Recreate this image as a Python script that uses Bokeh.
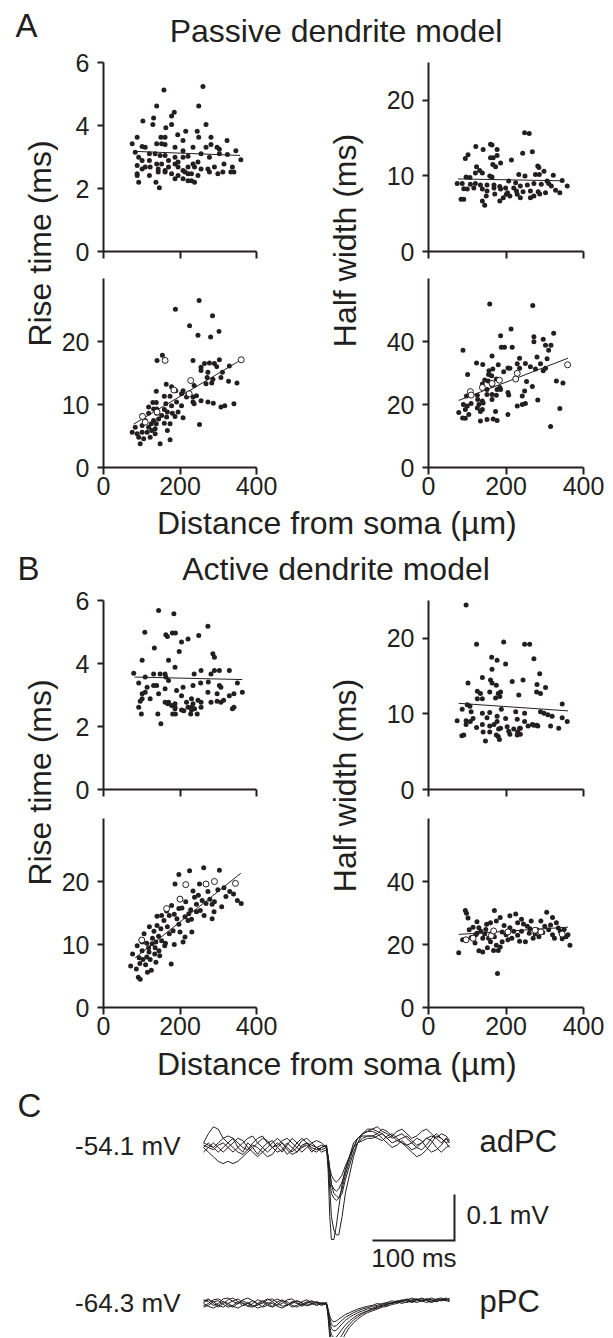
import math
from bokeh.plotting import figure
from bokeh.models import Range1d, FixedTicker, Label, ColumnDataSource
from bokeh.layouts import column, row
from bokeh.embed import file_html
from bokeh.resources import INLINE

# ---------------- data ----------------
# (distance from soma in um, value) pairs
passive_rise_top = [(158,5.13),(260,5.24),(139,4.62),(249,4.62),(185,4.42),(178,4.30),(103,4.14),(131,4.24),(129,4.03),(268,4.03),(163,3.93),(178,4.03),(215,3.82),(194,3.71),(245,3.82),(88,3.63),(150,3.63),(161,3.63),(208,3.52),(249,3.63),(281,3.63),(323,3.52),(75,3.42),(101,3.33),(109,3.31),(139,3.42),(152,3.42),(161,3.40),(187,3.31),(208,3.20),(234,3.31),(268,3.31),(281,3.40),(297,3.31),(303,3.25),(346,3.20),(83,3.15),(120,3.10),(135,3.10),(148,3.05),(161,3.05),(187,2.99),(208,2.99),(221,3.02),(255,3.10),(277,2.99),(303,3.10),(324,3.08),(92,2.99),(101,2.89),(120,2.89),(139,2.78),(152,2.78),(170,2.89),(187,2.78),(195,2.84),(234,2.78),(247,2.84),(359,2.91),(88,2.73),(101,2.62),(109,2.68),(122,2.68),(143,2.62),(161,2.57),(170,2.68),(195,2.68),(208,2.57),(221,2.68),(238,2.68),(255,2.62),(273,2.62),(290,2.68),(315,2.78),(337,2.68),(277,2.52),(299,2.47),(312,2.52),(333,2.52),(341,2.52),(88,2.47),(120,2.41),(143,2.52),(161,2.52),(178,2.47),(195,2.41),(213,2.52),(221,2.47),(230,2.47),(247,2.41),(88,2.41),(187,2.31),(208,2.31),(221,2.25),(230,2.25),(238,2.20),(92,2.20),(137,2.20),(146,2.02)]
passive_half_top = [(248,15.7),(260,15.6),(122,13.9),(141,13.5),(160,14.2),(164,14.1),(177,13.5),(268,13.2),(243,13.0),(102,12.8),(95,12.3),(160,12.4),(167,12.4),(177,12.7),(214,12.1),(186,11.7),(173,11.2),(166,11.5),(282,11.3),(285,11.1),(124,11.2),(132,10.7),(121,10.4),(139,10.4),(298,10.6),(322,10.1),(233,10.2),(249,10.0),(276,10.2),(286,10.2),(97,9.87),(107,9.8),(158,10.0),(164,9.87),(207,9.33),(225,9.1),(306,9.33),(345,9.4),(74,8.98),(87,8.98),(108,8.9),(121,8.98),(134,8.8),(151,8.8),(169,8.8),(184,8.6),(199,8.4),(220,8.4),(237,8.67),(255,8.8),(272,8.98),(291,8.9),(310,8.98),(317,8.67),(358,8.67),(91,8.3),(100,8.27),(117,8.4),(139,8.27),(151,8.0),(169,8.4),(186,8.27),(204,7.78),(227,8.0),(244,7.9),(263,8.0),(283,7.9),(302,7.78),(328,8.1),(339,7.78),(210,7.33),(229,7.56),(237,7.1),(149,7.33),(171,7.6),(193,7.1),(84,6.9),(91,6.9),(201,7.56),(184,6.67),(139,6.67),(145,6.13),(263,7.1),(272,7.33),(287,7.6)]
passive_rise_bot = [(250,26.5),(188,25.1),(285,24.1),(225,22.5),(247,21.0),(302,21.6),(280,20.7),(140,17.0),(154,17.8),(234,17.0),(255,15.9),(264,16.5),(277,16.6),(290,16.5),(303,17.1),(296,16.0),(255,15.4),(273,15.1),(311,15.1),(329,16.1),(271,14.3),(286,14.0),(307,14.3),(327,13.7),(349,13.4),(268,13.3),(283,13.4),(237,13.0),(164,13.2),(178,12.8),(189,12.2),(208,12.2),(221,11.7),(204,11.7),(217,11.2),(234,11.2),(243,11.4),(138,12.1),(159,11.3),(174,11.3),(255,10.6),(273,10.4),(287,10.2),(307,9.6),(317,9.8),(341,10.1),(234,10.4),(237,10.1),(129,10.3),(138,10.3),(163,10.1),(178,9.8),(191,10.4),(204,9.8),(118,9.6),(131,9.3),(139,9.3),(159,9.2),(167,8.8),(180,8.6),(195,8.8),(101,8.25),(118,8.6),(139,8.6),(152,8.25),(165,8.0),(187,8.1),(208,7.9),(109,7.46),(131,7.46),(144,7.7),(125,6.94),(138,6.94),(159,7.03),(174,6.94),(251,6.83),(83,6.4),(101,6.67),(118,6.4),(135,6.14),(75,5.6),(88,5.35),(101,5.6),(114,5.6),(126,5.87),(135,5.35),(167,5.87),(92,4.81),(105,4.55),(122,4.81),(96,3.76),(148,3.76),(174,4.4)]
passive_rise_bot_open = [(102,8.1),(109,7.2),(140,8.8),(161,17.0),(184,12.3),(224,11.7),(228,13.8),(360,17.1)]
passive_half_bot = [(158,51.9),(269,51.4),(213,44.0),(186,41.8),(272,41.5),(272,39.9),(296,40.7),(323,42.6),(302,38.8),(316,38.8),(310,37.2),(89,37.2),(188,38.2),(196,38.2),(216,38.2),(164,35.4),(235,34.7),(280,35.1),(306,34.5),(124,33.2),(140,32.7),(180,32.6),(205,31.6),(229,32.9),(235,31.5),(250,33.0),(263,32.0),(289,32.9),(276,31.3),(296,30.7),(302,31.5),(156,30.7),(166,31.3),(194,30.4),(210,31.5),(101,29.5),(155,29.5),(163,29.1),(145,27.8),(154,27.5),(175,28.1),(253,27.3),(330,27.5),(347,26.8),(139,26.5),(164,26.1),(184,25.4),(205,23.8),(248,24.3),(151,24.8),(177,24.8),(186,24.8),(268,25.7),(98,22.7),(126,22.9),(151,23.2),(164,23.2),(175,22.9),(207,23.0),(242,22.7),(127,21.6),(139,21.1),(164,21.6),(90,20.0),(100,19.5),(110,20.3),(130,20.0),(141,20.5),(229,19.5),(242,20.0),(250,20.3),(282,21.4),(78,17.5),(95,18.4),(126,18.9),(139,18.4),(104,16.8),(134,17.8),(173,17.8),(205,16.8),(88,15.7),(95,15.6),(134,14.8),(151,15.2),(167,15.4),(177,14.9),(339,18.7),(315,13.0)]
passive_half_bot_open = [(108,24.1),(110,23.0),(139,25.4),(164,26.7),(183,27.7),(225,28.1),(229,29.9),(359,32.6)]

active_rise_top = [(144,5.68),(184,5.58),(108,4.99),(163,4.91),(167,4.86),(180,4.97),(188,4.97),(273,5.18),(249,4.89),(221,4.78),(204,4.68),(133,4.49),(198,4.38),(286,4.31),(290,4.20),(101,4.10),(170,4.10),(255,3.78),(329,3.78),(79,3.69),(109,3.57),(131,3.67),(148,3.67),(161,3.67),(187,3.88),(163,3.57),(237,3.67),(290,3.78),(303,3.78),(281,3.67),(92,3.38),(114,3.25),(131,3.30),(139,3.30),(170,3.46),(208,3.25),(234,3.30),(254,3.38),(274,3.41),(303,3.30),(307,3.25),(350,3.38),(363,3.09),(109,3.09),(101,3.04),(161,3.20),(191,3.14),(273,3.09),(297,3.04),(329,2.98),(341,3.04),(101,2.88),(122,2.88),(144,3.04),(204,2.98),(230,2.88),(96,2.80),(161,2.77),(170,2.77),(187,2.72),(217,2.77),(234,2.72),(247,2.83),(255,2.77),(281,2.77),(297,2.80),(307,2.77),(314,2.83),(168,2.72),(178,2.67),(187,2.61),(92,2.61),(221,2.61),(230,2.61),(238,2.56),(255,2.61),(341,2.61),(337,2.56),(204,2.52),(210,2.50),(230,2.52),(187,2.56),(99,2.40),(142,2.40),(181,2.40),(188,2.40),(228,2.40),(245,2.40),(150,2.09)]
active_half_top = [(97,24.4),(124,19.2),(194,19.5),(248,19.2),(261,19.2),(163,17.5),(177,17.1),(272,17.3),(199,16.6),(139,14.8),(160,14.5),(164,14.1),(216,14.3),(244,14.5),(102,14.1),(175,13.8),(280,13.9),(287,15.3),(302,13.5),(164,15.9),(126,13.0),(134,12.7),(158,12.9),(180,12.7),(186,12.9),(279,12.9),(289,12.7),(126,12.0),(139,12.0),(173,12.1),(184,12.3),(233,12.5),(107,11.0),(100,11.2),(345,11.3),(188,10.6),(87,10.6),(110,10.3),(139,10.1),(158,10.2),(177,9.7),(199,9.4),(225,10.3),(248,10.1),(289,10.3),(298,10.1),(308,9.9),(319,9.7),(74,9.1),(97,9.1),(115,9.4),(151,9.5),(177,9.0),(229,9.3),(248,9.0),(268,8.6),(280,8.5),(345,9.5),(358,9.0),(97,8.6),(108,9.0),(124,8.2),(139,8.6),(158,8.4),(169,8.6),(186,8.1),(203,8.3),(220,8.0),(237,8.1),(257,8.4),(272,8.5),(282,8.4),(315,8.4),(336,8.1),(141,7.6),(158,7.6),(181,8.0),(207,7.7),(230,7.6),(235,8.1),(91,7.2),(86,7.1),(175,7.2),(180,7.0),(210,7.3),(229,7.2),(237,7.3),(147,6.4),(183,6.6)]
active_rise_bot = [(71,6.6),(86,6.1),(91,4.8),(96,4.5),(125,5.9),(76,8.5),(93,7.9),(103,7.6),(113,8.0),(122,7.6),(137,7.2),(101,9.0),(119,8.8),(134,8.5),(147,8.2),(177,6.9),(101,10.4),(113,10.2),(127,10.1),(137,10.4),(152,10.6),(162,10.2),(106,11.7),(132,12.1),(144,11.3),(172,11.7),(208,10.4),(213,11.2),(140,13.0),(167,12.8),(182,12.2),(197,13.2),(221,13.8),(231,12.0),(140,14.5),(152,14.6),(172,14.6),(192,14.1),(213,14.4),(223,14.9),(243,15.2),(253,15.4),(263,14.6),(284,14.1),(289,15.2),(309,16.0),(284,16.4),(243,16.4),(197,15.7),(360,16.5),(187,19.6),(234,18.5),(197,21.1),(225,21.7),(262,22.2),(303,21.8),(251,19.6),(273,18.4),(299,18.7),(315,19.0),(330,18.4),(88,9.8),(95,7.0),(110,6.8),(118,9.5),(128,11.0),(150,12.5),(158,13.8),(165,15.3),(178,16.2),(185,14.8),(205,15.8),(215,16.8),(228,15.5),(238,17.5),(248,17.8),(258,17.0),(268,16.5),(278,17.2),(290,16.8),(320,17.6),(340,18.0),(350,17.0),(120,12.8),(135,9.5),(160,9.8),(230,14.0),(200,12.0),(185,10.0),(115,5.6),(145,9.0)]
active_rise_bot_open = [(100,10.7),(165,15.7),(200,17.2),(215,19.5),(268,19.6),(290,20.0),(345,19.7)]
active_half_bot = [(78,17.4),(95,30.8),(98,29.9),(102,28.4),(110,22.2),(115,21.8),(122,23.1),(135,24.2),(140,22.0),(130,25.3),(150,26.4),(160,26.9),(170,30.8),(175,27.5),(185,28.6),(160,20.9),(175,19.8),(185,19.2),(168,18.1),(190,20.9),(155,22.0),(140,17.6),(180,18.1),(178,10.8),(210,25.3),(220,24.2),(230,26.9),(240,28.0),(255,25.8),(265,27.5),(280,24.7),(210,29.1),(225,29.7),(200,23.1),(215,22.0),(230,22.9),(250,20.9),(270,22.0),(290,27.5),(300,25.8),(310,24.7),(320,23.1),(330,26.9),(340,24.2),(355,22.5),(360,23.1),(365,19.8),(305,30.2),(320,28.6),(240,24.2),(260,23.6),(275,23.3),(105,24.7),(115,25.5),(125,23.6),(145,23.3),(88,21.5),(120,20.5),(130,18.0),(148,24.8),(165,23.5),(195,26.0),(205,21.5),(235,21.0),(245,26.5),(262,25.0),(285,22.5),(295,23.8),(315,26.2),(325,22.0),(335,25.2),(345,21.8),(350,24.8),(190,24.0),(170,22.5),(125,27.2),(152,19.0)]
active_half_bot_open = [(97,21.5),(115,22.0),(162,22.8),(168,24.3),(205,24.0),(275,24.5),(290,24.0),(345,23.3)]

# regression lines (distance endpoints, values)
fit_passive_rise_top = ([79, 357], [3.18, 3.05])
fit_passive_half_top = ([76, 349], [9.6, 9.35])
fit_passive_rise_bot = ([79, 360], [6.9, 17.1])
fit_passive_half_bot = ([78, 360], [21.3, 34.7])
fit_active_rise_top = ([81, 363], [3.57, 3.49])
fit_active_half_top = ([78, 360], [11.4, 10.4])
fit_active_rise_bot = ([83, 359], [7.9, 21.3])
fit_active_half_bot = ([78, 360], [23.2, 25.5])

distance_ticks = [0, 200, 400]
rise_top_ticks = [0, 2, 4, 6]
half_top_ticks = [0, 10, 20]
rise_bot_ticks = [0, 10, 20]
half_bot_ticks = [0, 20, 40]

# C: traces (time in ms, deviation in mV)
trace_time = [0,6,12,18,24,30,36,42,48,54,60,66,72,78,84,90,96,102,108,114,120,126,132,138,144,150,
              152,154,156,159,162,165,169,173,178,183,188,194,200,
              206,212,218,224,230,236,242,248,254,260,266,272,278,284,290,296,300]
adpc_1 = [0.01,0.03,0.045,0.04,0.02,0.01,0.02,0.0,-0.01,0.01,0.0,-0.015,0.0,0.01,0.015,0.0,-0.01,0.005,0.02,0.01,0.0,0.005,-0.01,0.0,0.005,0.0,
          -0.05,-0.15,-0.20,-0.20,-0.17,-0.13,-0.08,-0.05,-0.02,0.0,0.02,0.03,0.035,
          0.04,0.045,0.035,0.03,0.02,0.025,0.03,0.02,0.01,0.0,-0.005,0.005,0.02,0.03,0.02,0.01,0.015]
adpc_2 = [0.0,-0.01,-0.02,-0.03,-0.035,-0.03,-0.035,-0.03,-0.02,-0.01,0.0,0.01,0.02,0.015,0.0,-0.01,-0.005,0.01,0.0,-0.01,0.005,0.01,0.0,-0.005,0.0,0.005,
          -0.03,-0.09,-0.15,-0.18,-0.19,-0.19,-0.15,-0.10,-0.06,-0.02,0.01,0.03,0.04,
          0.04,0.035,0.03,0.02,0.025,0.035,0.04,0.03,0.02,0.025,0.035,0.04,0.03,0.02,0.01,0.02,0.01]
adpc_3 = [0.01,0.005,0.0,0.01,0.02,0.025,0.02,0.01,0.0,-0.005,0.01,0.02,0.025,0.01,0.0,0.005,0.015,0.02,0.01,0.0,-0.01,0.0,0.01,0.015,0.01,0.0,
          -0.03,-0.07,-0.10,-0.11,-0.115,-0.11,-0.09,-0.06,-0.03,0.0,0.02,0.03,0.035,
          0.035,0.03,0.02,0.01,0.0,0.005,0.015,0.005,-0.005,0.0,0.01,0.02,0.015,0.0,-0.01,0.0,0.005]
adpc_4 = [-0.01,0.0,0.01,0.0,-0.01,0.0,0.01,0.02,0.015,0.0,-0.01,-0.02,-0.01,0.0,0.01,0.02,0.01,-0.005,-0.015,-0.01,0.0,0.01,0.005,0.0,-0.01,-0.005,
          -0.02,-0.05,-0.08,-0.10,-0.105,-0.11,-0.10,-0.07,-0.04,-0.01,0.01,0.02,0.025,
          0.025,0.03,0.04,0.035,0.025,0.015,0.01,0.0,-0.01,-0.02,-0.015,-0.005,0.01,0.025,0.02,0.01,0.0]
adpc_5 = [0.0,0.01,0.0,-0.01,0.0,0.01,0.0,-0.01,-0.015,-0.005,0.005,0.0,-0.01,-0.02,-0.015,0.0,0.01,0.0,-0.01,0.0,0.015,0.02,0.01,0.0,-0.005,0.0,
          -0.02,-0.05,-0.08,-0.09,-0.095,-0.09,-0.075,-0.05,-0.02,0.0,0.01,0.015,0.02,
          0.02,0.025,0.03,0.02,0.01,0.015,0.02,0.025,0.015,0.005,0.01,0.02,0.025,0.02,0.03,0.025,0.015]
adpc_6 = [0.005,0.0,-0.005,0.005,0.01,0.0,-0.01,0.0,0.01,0.02,0.025,0.01,0.0,-0.01,0.0,0.01,0.0,-0.015,-0.005,0.01,0.02,0.01,-0.005,-0.01,0.0,0.005,
          -0.02,-0.045,-0.06,-0.07,-0.075,-0.07,-0.06,-0.04,-0.02,0.01,0.02,0.025,0.025,
          0.025,0.02,0.015,0.025,0.03,0.02,0.01,0.005,0.01,0.02,0.015,0.0,-0.01,-0.005,0.005,0.02,0.01]
ppc_1 = [0.005,0.01,0.0,-0.008,0.0,0.008,0.012,0.004,-0.005,0.0,0.006,0.0,-0.008,-0.004,0.005,0.01,0.004,-0.003,0.0,0.006,0.002,-0.004,0.0,0.004,0.0,0.0,
         -0.03,-0.075,-0.10,-0.11,-0.105,-0.095,-0.08,-0.066,-0.052,-0.042,-0.034,-0.026,-0.02,
         -0.016,-0.012,-0.008,-0.006,-0.002,0.0,0.004,0.002,0.006,0.01,0.006,0.008,0.012,0.008,0.006,0.01,0.008]
ppc_2 = [-0.005,0.0,0.008,0.01,0.004,-0.004,-0.008,0.0,0.008,0.012,0.006,-0.002,0.0,0.008,0.01,0.002,-0.006,-0.004,0.004,0.0,-0.006,0.0,0.005,0.002,-0.003,0.0,
         -0.025,-0.06,-0.08,-0.09,-0.088,-0.08,-0.068,-0.056,-0.045,-0.036,-0.029,-0.022,-0.017,
         -0.013,-0.01,-0.004,-0.002,0.002,0.006,0.004,0.008,0.012,0.008,0.004,0.01,0.008,0.004,0.008,0.012,0.006]
ppc_3 = [0.0,-0.006,-0.01,-0.004,0.004,0.0,-0.006,-0.01,-0.004,0.002,-0.004,-0.01,-0.006,0.002,0.0,-0.006,-0.01,-0.004,0.003,0.006,0.0,-0.005,-0.002,0.003,0.0,-0.002,
         -0.02,-0.05,-0.068,-0.075,-0.073,-0.066,-0.056,-0.047,-0.038,-0.031,-0.025,-0.02,-0.016,
         -0.012,-0.008,-0.006,0.0,0.0,0.004,0.008,0.006,0.002,0.006,0.01,0.006,0.002,0.006,0.01,0.006,0.004]
ppc_4 = [0.008,0.004,-0.004,0.0,0.01,0.012,0.004,0.0,0.006,0.0,-0.006,-0.004,0.004,0.01,0.004,-0.004,0.0,0.008,0.01,0.002,-0.004,0.002,0.006,0.0,-0.004,0.0,
         -0.018,-0.04,-0.054,-0.06,-0.058,-0.052,-0.044,-0.037,-0.03,-0.025,-0.02,-0.016,-0.012,
         -0.01,-0.006,-0.004,-0.004,0.002,0.004,0.0,0.004,0.008,0.01,0.006,0.002,0.006,0.01,0.012,0.008,0.01]
ppc_5 = [-0.008,-0.004,0.004,0.006,-0.002,-0.008,-0.004,0.004,0.0,-0.006,0.0,0.008,0.004,-0.004,-0.008,-0.002,0.006,0.004,-0.004,-0.008,-0.002,0.004,0.0,-0.004,0.002,0.0,
         -0.015,-0.033,-0.045,-0.05,-0.048,-0.043,-0.036,-0.03,-0.025,-0.02,-0.016,-0.012,-0.009,
         -0.006,-0.004,0.0,0.002,0.0,0.004,0.006,0.01,0.006,0.002,0.006,0.01,0.008,0.004,0.008,0.006,0.012]
ppc_6 = [0.002,0.008,0.004,-0.004,-0.008,0.0,0.006,0.01,0.002,-0.006,-0.008,0.0,0.006,0.0,-0.006,0.004,0.008,0.0,-0.008,-0.004,0.004,0.008,0.002,-0.004,0.0,0.002,
         -0.012,-0.027,-0.036,-0.04,-0.038,-0.034,-0.029,-0.024,-0.02,-0.016,-0.012,-0.009,-0.006,
         -0.004,0.0,-0.002,0.002,0.006,0.002,0.006,0.008,0.004,0.008,0.012,0.008,0.004,0.008,0.006,0.01,0.006]
adpc_traces = [adpc_1, adpc_2, adpc_3, adpc_4, adpc_5, adpc_6]
ppc_traces = [ppc_1, ppc_2, ppc_3, ppc_4, ppc_5, ppc_6]
scale_ms = 100
scale_mv = 0.1

# ---------------- style ----------------
INK = "#231f20"
FONT = "Liberation Sans"
W = 612


def text_fig(w, h):
    p = figure(width=w, height=h, x_range=Range1d(0, w), y_range=Range1d(0, h),
               x_axis_type=None, y_axis_type=None, toolbar_location=None,
               output_backend="svg", min_border=0, title=None)
    p.outline_line_color = None
    return p


def add_text(p, x, y, txt, size, align="left", angle=0.0):
    # y is the vertical middle of the text's em box
    p.add_layout(Label(x=x, y=y, text=txt, text_font=FONT, text_font_size=size,
                       text_color=INK, text_align=align, text_baseline="middle",
                       angle=angle, angle_units="rad"))


def panel(w, h, bl, br, bt, bb, ymax, yticks, xlabels, pts, fit, opened=None):
    p = figure(width=w, height=h, x_range=Range1d(0, 400), y_range=Range1d(0, ymax),
               toolbar_location=None, output_backend="svg", title=None,
               min_border_left=bl, min_border_right=br, min_border_top=bt, min_border_bottom=bb)
    p.grid.visible = False
    p.outline_line_color = None
    p.xaxis.ticker = FixedTicker(ticks=distance_ticks)
    p.yaxis.ticker = FixedTicker(ticks=yticks)
    for ax in p.axis:
        ax.axis_line_color = INK
        ax.axis_line_width = 2
        ax.major_tick_line_color = INK
        ax.major_tick_line_width = 2
        ax.major_tick_in = 0
        ax.minor_tick_in = 0
        ax.minor_tick_out = 0
        ax.major_label_text_font = FONT
        ax.major_label_text_font_size = "25px"
        ax.major_label_text_color = INK
    p.xaxis.major_tick_out = 7
    p.yaxis.major_tick_out = 6
    p.xaxis.major_label_standoff = 2
    p.yaxis.major_label_standoff = 8
    if not xlabels:
        p.xaxis.major_label_overrides = {0: "", 200: "", 400: ""}
        p.xaxis.major_label_text_font_size = "0px"
        p.xaxis.major_label_standoff = 0
    src = ColumnDataSource(dict(x=[a for a, b in pts], y=[b for a, b in pts]))
    p.scatter("x", "y", source=src, size=5, marker="circle", fill_color=INK, line_color=None)
    p.line(fit[0], fit[1], line_color=INK, line_width=1)
    if opened:
        osrc = ColumnDataSource(dict(x=[a for a, b in opened], y=[b for a, b in opened]))
        p.scatter("x", "y", source=osrc, size=6, marker="circle", fill_color="white",
                  line_color=INK, line_width=1)
    return p


def block(top_pts, top_fit, htop_pts, htop_fit, bot_pts, bot_fit, bot_open,
          hbot_pts, hbot_fit, hbot_open, bt1, bt2, rise_y, half_y):
    ht = bt1 + 189 + 15
    hb = bt2 + 189 + 38
    tl = panel(242, ht, 43, 44, bt1, 15, 6, rise_top_ticks, False, top_pts, top_fit)
    bl = panel(242, hb, 43, 44, bt2, 38, 30, rise_bot_ticks, True, bot_pts, bot_fit, bot_open)
    tr = panel(247, ht, 63, 29, bt1, 15, 25, half_top_ticks, False, htop_pts, htop_fit)
    br = panel(247, hb, 63, 29, bt2, 38, 60, half_bot_ticks, True, hbot_pts, hbot_fit, hbot_open)
    H = ht + hb
    left = text_fig(58, H)
    add_text(left, 39, rise_y, "Rise time (ms)", "32px", "center", math.pi / 2)
    mid = text_fig(65, H)
    add_text(mid, 44, half_y, "Half width (ms)", "32px", "center", math.pi / 2)
    return row(left, column(tl, bl), mid, column(tr, br))


# header A  (page y 0..48)
hA = text_fig(W, 48)
add_text(hA, 15, 23.4, "A", "33px")
add_text(hA, 335.5, 17.9, "Passive dendrite model", "32px", "center")

# block A (page y 48..505)
rowA = block(passive_rise_top, fit_passive_rise_top, passive_half_top, fit_passive_half_top,
             passive_rise_bot, fit_passive_rise_bot, passive_rise_bot_open,
             passive_half_bot, fit_passive_half_bot, passive_half_bot_open, 14, 12, 262, 265)

# x title A (page y 505..545)
xA = text_fig(W, 40)
add_text(xA, 336.3, 22.1, "Distance from soma (µm)", "32px", "center")

# header B (page y 545..586)
hB = text_fig(W, 41)
add_text(hB, 17, 18.4, "B", "33px")
add_text(hB, 335.5, 17.9, "Active dendrite model", "32px", "center")

# block B (page y 586..1045)
rowB = block(active_rise_top, fit_active_rise_top, active_half_top, fit_active_half_top,
             active_rise_bot, fit_active_rise_bot, active_rise_bot_open,
             active_half_bot, fit_active_half_bot, active_half_bot_open, 14, 14, 263, 260)

# x title B (page y 1045..1085)
xB = text_fig(W, 40)
add_text(xB, 336.3, 21.1, "Distance from soma (µm)", "32px", "center")

# panel C (page y 1085..1337)
PPC_OFFSET = -0.3391
pc = figure(width=W, height=252, x_range=Range1d(-247.56, 498.8), y_range=Range1d(-0.4130, 0.1348),
            x_axis_type=None, y_axis_type=None, toolbar_location=None, output_backend="svg",
            min_border=0, title=None)
pc.outline_line_color = None
for tr_ in adpc_traces:
    pc.line(trace_time, tr_, line_color=INK, line_width=1)
for tr_ in ppc_traces:
    pc.line(trace_time, [v + PPC_OFFSET for v in tr_], line_color=INK, line_width=1)
SB_X, SB_Y = 306.1, -0.202
pc.line([SB_X - scale_ms, SB_X, SB_X], [SB_Y, SB_Y, SB_Y + scale_mv], line_color=INK,
        line_width=2, line_join="miter")
add_text(pc, -226.8, 0.0922, "C", "33px")
add_text(pc, -28.0, 0.0022, "-54.1 mV", "26px", "right")
add_text(pc, 336.6, 0.0124, "adPC", "31px")
add_text(pc, 320.7, -0.1457, "0.1 mV", "26px")
add_text(pc, 256.7, -0.2391, "100 ms", "26px", "center")
add_text(pc, -28.0, -0.3370, "-64.3 mV", "26px", "right")
add_text(pc, 336.6, -0.3354, "pPC", "31px")

layout = column(hA, rowA, xA, hB, rowB, xB, pc)
open("out.html", "w").write(file_html(layout, INLINE))
